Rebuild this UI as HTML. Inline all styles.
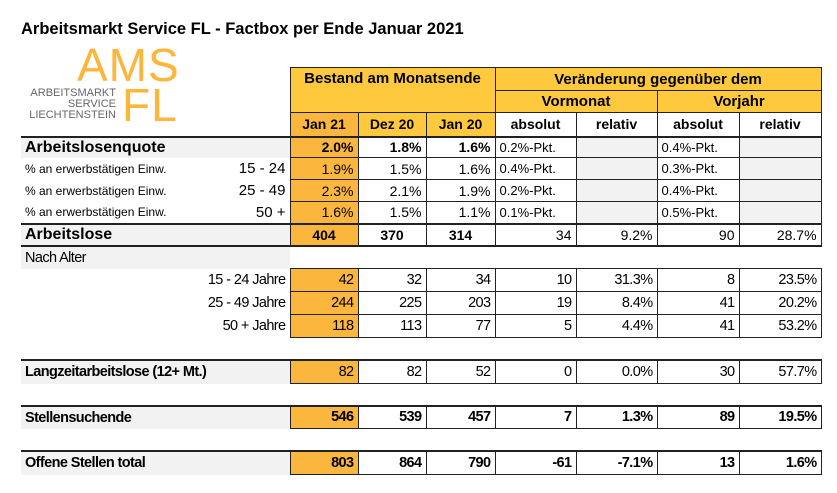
<!DOCTYPE html>
<html><head><meta charset="utf-8"><style>
body{margin:0;width:837px;height:493px;background:#fff;position:relative;overflow:hidden;font-family:"Liberation Sans",sans-serif;color:#000}
.title{position:absolute;left:21px;top:20px;font-weight:bold;font-size:16.5px}
.ams{position:absolute;left:77px;top:38px;font-size:46px;color:#fdb53a;letter-spacing:1px}
.fl{position:absolute;left:122px;top:78px;font-size:46px;color:#fdb53a;letter-spacing:1px}
.sub{position:absolute;left:14px;top:88px;width:102px;text-align:right;font-size:11px;line-height:11px;color:#666}
table{position:absolute;left:21px;top:67px;border-collapse:collapse;table-layout:fixed;width:800px}
td{padding:0 4px;font-size:14px;white-space:nowrap;overflow:hidden}
.y{background:#fec93c;text-align:center;font-weight:bold;border:1.5px solid #222}
.o{background:#fbb63d}
.b{border:1px solid #222}
.n{text-align:right}
.g{background:#f2f2f2}
.bold{font-weight:bold}
.nar{font-size:14.5px;letter-spacing:-0.6px}
.tt{border-top:2px solid #222}
.hl{text-align:center;font-weight:bold;border:1px solid #222}
</style></head><body>
<div class="title">Arbeitsmarkt Service FL - Factbox per Ende Januar 2021</div>
<div class="ams">AMS</div><div class="fl">FL</div>
<div class="sub">ARBEITSMARKT<br>SERVICE<br>LIECHTENSTEIN</div>
<table>
<colgroup><col style="width:200px"><col style="width:69px"><col style="width:68px"><col style="width:68px"><col style="width:69px"><col style="width:81px"><col style="width:81px"><col style="width:82px"><col style="width:82px"></colgroup>
<tr style="height:23px"><td></td><td></td><td class="y" colspan="3" rowspan="2" style="vertical-align:top;padding-top:2px;font-size:15px">Bestand am Monatsende</td><td class="y" colspan="4" style="font-size:15px">Veränderung gegenüber dem</td></tr>
<tr style="height:22px"><td></td><td></td><td class="y" colspan="2" style="font-size:15px">Vormonat</td><td class="y" colspan="2" style="font-size:15px">Vorjahr</td></tr>
<tr style="height:24px"><td></td><td></td><td class="y o">Jan 21</td><td class="y">Dez 20</td><td class="y">Jan 20</td><td class="hl">absolut</td><td class="hl">relativ</td><td class="hl">absolut</td><td class="hl">relativ</td></tr>
<tr style="height:21px" class="tt"><td class="g bold" style="font-size:16px">Arbeitslosenquote</td><td class="g"></td><td class="b n o bold">2.0%</td><td class="b n bold">1.8%</td><td class="b n bold">1.6%</td><td class="b" style="font-size:13px">0.2%-Pkt.</td><td class="b g"></td><td class="b" style="font-size:13px">0.4%-Pkt.</td><td class="b g"></td></tr>
<tr style="height:22px"><td style="font-size:12px">% an erwerbstätigen Einw.</td><td class="n" style="font-size:15px">15 - 24</td><td class="b n o">1.9%</td><td class="b n">1.5%</td><td class="b n">1.6%</td><td class="b" style="font-size:13px">0.4%-Pkt.</td><td class="b g"></td><td class="b" style="font-size:13px">0.3%-Pkt.</td><td class="b g"></td></tr>
<tr style="height:22px"><td style="font-size:12px">% an erwerbstätigen Einw.</td><td class="n" style="font-size:15px">25 - 49</td><td class="b n o">2.3%</td><td class="b n">2.1%</td><td class="b n">1.9%</td><td class="b" style="font-size:13px">0.2%-Pkt.</td><td class="b g"></td><td class="b" style="font-size:13px">0.4%-Pkt.</td><td class="b g"></td></tr>
<tr style="height:22px"><td style="font-size:12px">% an erwerbstätigen Einw.</td><td class="n" style="font-size:15px">50 +</td><td class="b n o">1.6%</td><td class="b n">1.5%</td><td class="b n">1.1%</td><td class="b" style="font-size:13px">0.1%-Pkt.</td><td class="b g"></td><td class="b" style="font-size:13px">0.5%-Pkt.</td><td class="b g"></td></tr>
<tr style="height:22px" class="tt"><td class="g bold" style="font-size:16px">Arbeitslose</td><td class="g"></td><td class="b o bold" style="text-align:center">404</td><td class="b bold" style="text-align:center">370</td><td class="b bold" style="text-align:center">314</td><td class="b n">34</td><td class="b n">9.2%</td><td class="b n">90</td><td class="b n">28.7%</td></tr>
<tr style="height:23px" class="tt"><td class="g nar">Nach Alter</td><td class="g"></td><td></td><td></td><td></td><td></td><td></td><td></td><td></td></tr>
<tr style="height:23px"><td colspan="2" class="n nar" style="border-right:1px solid #222">15 - 24 Jahre</td><td class="b n o nar">42</td><td class="b n nar">32</td><td class="b n nar">34</td><td class="b n nar">10</td><td class="b n nar">31.3%</td><td class="b n nar">8</td><td class="b n nar">23.5%</td></tr>
<tr style="height:23px"><td colspan="2" class="n nar" style="border-right:1px solid #222">25 - 49 Jahre</td><td class="b n o nar">244</td><td class="b n nar">225</td><td class="b n nar">203</td><td class="b n nar">19</td><td class="b n nar">8.4%</td><td class="b n nar">41</td><td class="b n nar">20.2%</td></tr>
<tr style="height:23px"><td colspan="2" class="n nar" style="border-right:1px solid #222">50 + Jahre</td><td class="b n o nar">118</td><td class="b n nar">113</td><td class="b n nar">77</td><td class="b n nar">5</td><td class="b n nar">4.4%</td><td class="b n nar">41</td><td class="b n nar">53.2%</td></tr>
<tr style="height:22px"><td colspan="2"></td><td colspan="7" style="border-top:1px solid #222"></td></tr>
<tr style="height:24px" class="tt"><td class="g nar bold" colspan="2">Langzeitarbeitslose (12+ Mt.)</td><td class="b n o nar">82</td><td class="b n nar">82</td><td class="b n nar">52</td><td class="b n nar">0</td><td class="b n nar">0.0%</td><td class="b n nar">30</td><td class="b n nar">57.7%</td></tr>
<tr style="height:22px"><td colspan="2"></td><td colspan="7" style="border-top:1px solid #222"></td></tr>
<tr style="height:23px" class="tt"><td class="g nar bold" colspan="2">Stellensuchende</td><td class="b n o nar bold">546</td><td class="b n nar bold">539</td><td class="b n nar bold">457</td><td class="b n nar bold">7</td><td class="b n nar bold">1.3%</td><td class="b n nar bold">89</td><td class="b n nar bold">19.5%</td></tr>
<tr style="height:22px"><td colspan="2"></td><td colspan="7" style="border-top:1px solid #222"></td></tr>
<tr style="height:24px" class="tt"><td class="g nar bold" colspan="2">Offene Stellen total</td><td class="b n o nar bold">803</td><td class="b n nar bold">864</td><td class="b n nar bold">790</td><td class="b n nar bold">-61</td><td class="b n nar bold">-7.1%</td><td class="b n nar bold">13</td><td class="b n nar bold">1.6%</td></tr>
</table>
</body></html>
